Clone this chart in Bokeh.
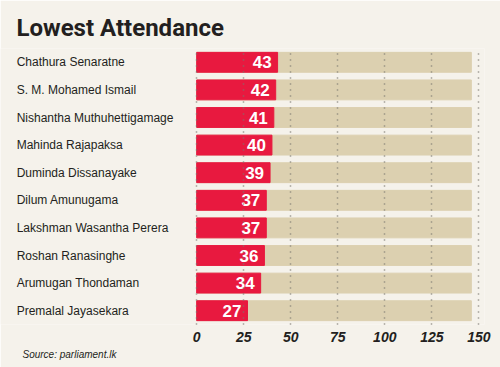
from bokeh.plotting import figure
from bokeh.models import Range1d, FactorRange, FixedTicker, ColumnDataSource, Title
from bokeh.core.properties import value
from bokeh.embed import file_html
from bokeh.resources import INLINE

names = ["Chathura Senaratne", "S. M. Mohamed Ismail", "Nishantha Muthuhettigamage",
         "Mahinda Rajapaksa", "Duminda Dissanayake", "Dilum Amunugama",
         "Lakshman Wasantha Perera", "Roshan Ranasinghe", "Arumugan Thondaman",
         "Premalal Jayasekara"]
attendance = [43, 42, 41, 40, 39, 37, 37, 36, 34, 27]
total_sittings = [146] * len(names)
x_ticks = [0, 25, 50, 75, 100, 125, 150]

BG = "#f5f2eb"
RED = "#e8193f"
TAN = "#dcd0b0"

src = ColumnDataSource(dict(name=names, att=attendance, tot=total_sittings,
                            lab=[str(v) for v in attendance],
                            lx=[-95.7] * len(names)))

p = figure(width=500, height=367, output_backend="svg", toolbar_location=None,
           x_range=Range1d(-104.3, 153), y_range=FactorRange(factors=names[::-1], range_padding=0),
           min_border_left=0, min_border_right=16, min_border_top=48, min_border_bottom=43)
p.background_fill_color = BG
p.border_fill_color = BG
p.outline_line_color = None

p.title.text = "Lowest Attendance"
p.title.text_font = "Roboto"
p.title.text_font_size = "24px"
p.title.text_font_style = "bold"
p.title.text_color = "#231f20"
p.title.offset = 16
p.title.standoff = 14

p.hbar(y="name", left=0, right="tot", height=0.72, color=TAN, source=src)
p.hbar(y="name", left=0, right="att", height=0.72, color=RED, source=src)

p.text(x="att", y="name", text="lab", source=src, x_offset=-6,
       text_align="right", text_baseline="middle", text_color="white",
       text_font=value("Liberation Sans"), text_font_size="17px", text_font_style="bold")
p.text(x="lx", y="name", text="name", source=src,
       text_align="left", text_baseline="middle", text_color="#231f20",
       text_font=value("Liberation Sans"), text_font_size="12px")

p.yaxis.visible = False
p.ygrid.grid_line_color = None
p.xgrid.ticker = FixedTicker(ticks=x_ticks)
p.xgrid.grid_line_color = "#7a766e"
p.xgrid.grid_line_dash = "1 5"
p.xgrid.grid_line_width = 1.5
p.xgrid.level = "overlay"

p.xaxis.ticker = FixedTicker(ticks=x_ticks)
p.xaxis.axis_line_color = None
p.xaxis.major_tick_line_color = None
p.xaxis.minor_tick_line_color = None
p.xaxis.major_label_text_font = "Liberation Sans"
p.xaxis.major_label_text_font_size = "14px"
p.xaxis.major_label_text_font_style = "bold italic"
p.xaxis.major_label_text_color = "#231f20"
p.xaxis.major_label_standoff = 1

src_title = Title(text="Source: parliament.lk", align="left", offset=22, standoff=5,
                  text_font="Liberation Sans", text_font_size="10px",
                  text_font_style="italic", text_color="#231f20")
p.add_layout(src_title, "below")

open("out.html", "w").write(file_html(p, INLINE))
